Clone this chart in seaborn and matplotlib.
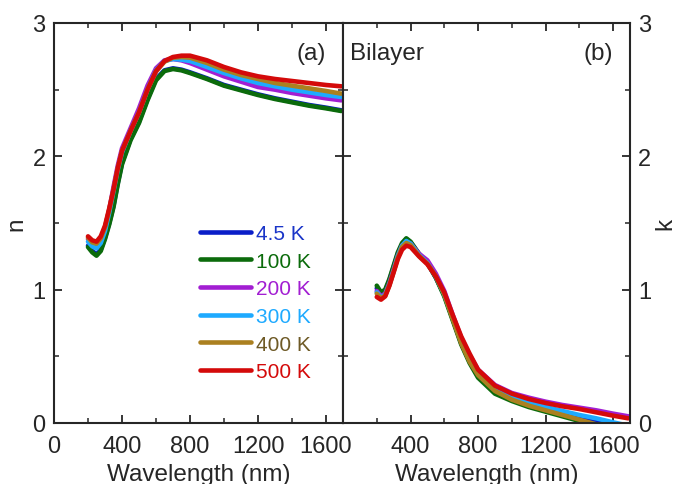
import numpy as np
import pandas as pd
import matplotlib
matplotlib.use("Agg")
import matplotlib.pyplot as plt
import seaborn as sns
from matplotlib.ticker import MultipleLocator

# ---------------- data ----------------
temps = ["4.5 K", "100 K", "200 K", "300 K", "400 K", "500 K"]
colors = ["#0a1ec8", "#0b6b0b", "#a21ed2", "#1eaaff", "#ab8020", "#d40a0a"]
text_colors = ["#1a35c8", "#0b6b0b", "#a21ed2", "#1eaaff", "#6e5a26", "#d40a0a"]

wl_n = [200, 225, 250, 275, 300, 325, 350, 375, 400, 450, 500, 550, 600, 650, 700, 750,
        800, 900, 1000, 1100, 1200, 1300, 1400, 1500, 1600, 1690]
n_4p5 = [1.33, 1.29, 1.265, 1.30, 1.39, 1.50, 1.63, 1.80, 1.95, 2.13, 2.26, 2.43, 2.58, 2.645,
         2.66, 2.65, 2.63, 2.585, 2.535, 2.50, 2.465, 2.435, 2.41, 2.385, 2.365, 2.345]
n_100 = [1.32, 1.28, 1.255, 1.29, 1.38, 1.49, 1.62, 1.79, 1.94, 2.12, 2.25, 2.42, 2.57, 2.64,
         2.655, 2.645, 2.625, 2.58, 2.53, 2.495, 2.46, 2.43, 2.405, 2.38, 2.36, 2.34]
n_200 = [1.38, 1.345, 1.33, 1.37, 1.46, 1.60, 1.77, 1.93, 2.06, 2.21, 2.36, 2.53, 2.66, 2.72,
         2.73, 2.72, 2.70, 2.65, 2.60, 2.56, 2.52, 2.50, 2.475, 2.455, 2.435, 2.42]
n_300 = [1.36, 1.325, 1.31, 1.35, 1.44, 1.58, 1.74, 1.90, 2.03, 2.19, 2.33, 2.50, 2.645, 2.715,
         2.73, 2.725, 2.715, 2.67, 2.625, 2.585, 2.55, 2.525, 2.50, 2.48, 2.46, 2.445]
n_400 = [1.39, 1.355, 1.345, 1.385, 1.47, 1.60, 1.75, 1.91, 2.04, 2.19, 2.33, 2.50, 2.635, 2.71,
         2.74, 2.745, 2.74, 2.70, 2.65, 2.61, 2.58, 2.55, 2.53, 2.51, 2.49, 2.47]
n_500 = [1.40, 1.37, 1.36, 1.40, 1.48, 1.61, 1.75, 1.91, 2.04, 2.19, 2.33, 2.50, 2.64, 2.715,
         2.745, 2.755, 2.755, 2.72, 2.67, 2.63, 2.60, 2.58, 2.565, 2.55, 2.535, 2.525]

wl_k = [200, 225, 250, 275, 300, 325, 350, 375, 400, 450, 500, 550, 600, 650, 700, 750,
        800, 900, 1000, 1100, 1200, 1300, 1400, 1500, 1600, 1690]
k_4p5 = [1.01, 0.965, 0.99, 1.07, 1.17, 1.27, 1.34, 1.38, 1.355, 1.265, 1.20, 1.09, 0.96,
         0.78, 0.60, 0.46, 0.35, 0.235, 0.175, 0.135, 0.10, 0.07, 0.04, 0.015, -0.01, -0.035]
k_100 = [1.03, 0.98, 1.00, 1.08, 1.18, 1.28, 1.35, 1.385, 1.36, 1.27, 1.20, 1.09, 0.95,
         0.77, 0.59, 0.45, 0.34, 0.22, 0.165, 0.12, 0.085, 0.05, 0.015, -0.02, -0.055, -0.085]
k_200 = [0.99, 0.95, 0.97, 1.05, 1.15, 1.255, 1.33, 1.36, 1.345, 1.27, 1.22, 1.12, 0.99,
         0.81, 0.64, 0.51, 0.40, 0.285, 0.225, 0.19, 0.16, 0.135, 0.115, 0.095, 0.07, 0.05]
k_300 = [0.98, 0.94, 0.96, 1.04, 1.14, 1.25, 1.33, 1.365, 1.345, 1.26, 1.20, 1.10, 0.965,
         0.79, 0.61, 0.47, 0.37, 0.25, 0.19, 0.15, 0.12, 0.09, 0.06, 0.035, 0.005, -0.02]
k_400 = [0.97, 0.935, 0.955, 1.035, 1.135, 1.24, 1.32, 1.35, 1.335, 1.255, 1.195, 1.10, 0.965,
         0.78, 0.60, 0.46, 0.36, 0.24, 0.175, 0.13, 0.095, 0.06, 0.025, -0.01, -0.045, -0.075]
k_500 = [0.945, 0.925, 0.95, 1.03, 1.13, 1.23, 1.30, 1.33, 1.32, 1.25, 1.19, 1.10, 0.98,
         0.81, 0.65, 0.52, 0.40, 0.28, 0.22, 0.18, 0.15, 0.125, 0.105, 0.08, 0.055, 0.035]

n_series = [n_4p5, n_100, n_200, n_300, n_400, n_500]
k_series = [k_4p5, k_100, k_200, k_300, k_400, k_500]

df_n = pd.concat([pd.DataFrame({"wl": wl_n, "val": s, "T": t}) for s, t in zip(n_series, temps)],
                 ignore_index=True)
df_k = pd.concat([pd.DataFrame({"wl": wl_k, "val": s, "T": t}) for s, t in zip(k_series, temps)],
                 ignore_index=True)

# ---------------- style ----------------
sns.set_style("ticks")
plt.rcParams["font.family"] = ["Liberation Sans", "DejaVu Sans"]
plt.rcParams["axes.linewidth"] = 1.5
plt.rcParams["xtick.major.width"] = 1.3
plt.rcParams["ytick.major.width"] = 1.3
plt.rcParams["xtick.minor.width"] = 1.1
plt.rcParams["ytick.minor.width"] = 1.1

palette = dict(zip(temps, colors))

fig = plt.figure(figsize=(6.78, 4.85), dpi=100)
axL = fig.add_axes([54 / 678, 1 - 424 / 485, (343 - 54) / 678, 400 / 485])
axR = fig.add_axes([343 / 678, 1 - 424 / 485, (630 - 343) / 678, 400 / 485])

sns.lineplot(data=df_n, x="wl", y="val", hue="T", hue_order=temps, palette=palette,
             linewidth=3.3, ax=axL, legend=True, sort=True, estimator=None)
sns.lineplot(data=df_k, x="wl", y="val", hue="T", hue_order=temps, palette=palette,
             linewidth=3.3, ax=axR, legend=False, sort=True, estimator=None)

for ax in (axL, axR):
    ax.set_xlim(0, 1700)
    ax.set_ylim(0, 3)
    ax.xaxis.set_major_locator(MultipleLocator(400))
    ax.xaxis.set_minor_locator(MultipleLocator(200))
    ax.yaxis.set_major_locator(MultipleLocator(1))
    ax.yaxis.set_minor_locator(MultipleLocator(0.5))
    ax.tick_params(which="both", direction="in", top=True, right=True, left=True, bottom=True,
                   labelsize=17)
    ax.tick_params(which="major", length=6)
    ax.tick_params(which="minor", length=3.5)
    ax.tick_params(axis="x", pad=9)
    ax.tick_params(axis="y", pad=6)
    ax.set_xlabel("Wavelength (nm)", fontsize=17.5, labelpad=4)
    for sp in ax.spines.values():
        sp.set_visible(True)
        sp.set_linewidth(1.5)

axL.set_ylabel("n", fontsize=17.5, labelpad=4)
axL.set_xticks([0, 400, 800, 1200, 1600])
axR.set_xticks([400, 800, 1200, 1600])
axR.tick_params(axis="y", labelleft=False, labelright=True)
axR.yaxis.set_label_position("right")
axR.set_ylabel("k", fontsize=17.5, labelpad=2)

axL.text(0.942, 0.91, "(a)", transform=axL.transAxes, fontsize=17.5, ha="right", va="baseline")
axR.text(0.025, 0.91, "Bilayer", transform=axR.transAxes, fontsize=17.5, ha="left", va="baseline")
axR.text(0.94, 0.91, "(b)", transform=axR.transAxes, fontsize=17.5, ha="right", va="baseline")

leg = axL.legend(loc="upper left", bbox_to_anchor=(0.505, 0.4975), frameon=False, fontsize=15,
                 handlelength=2.45, handletextpad=0.25, labelspacing=0.415, borderaxespad=0,
                 borderpad=0)
for txt, c in zip(leg.get_texts(), text_colors):
    txt.set_color(c)
for line in leg.get_lines():
    line.set_linewidth(3.3)

fig.savefig("out.png", dpi=100)
